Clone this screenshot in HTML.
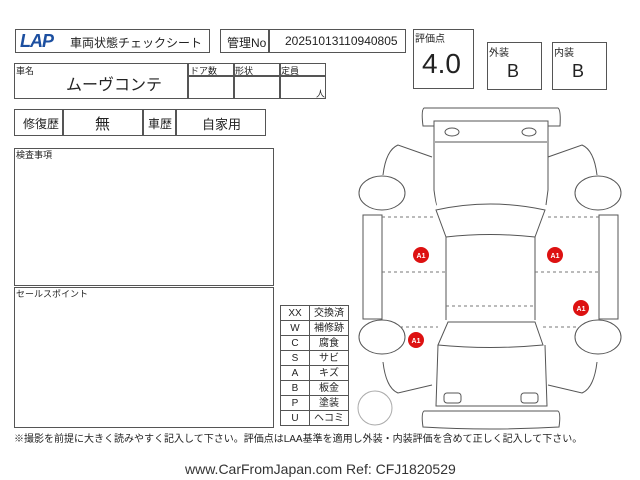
<!DOCTYPE html>
<html><head><meta charset="utf-8"><style>
body{margin:0;width:640px;height:480px;background:#fff;position:relative;overflow:hidden;font-family:"Liberation Sans","Noto Sans CJK JP",sans-serif;color:#222}
.b{position:absolute;border:1px solid #555;box-sizing:border-box}
.t{position:absolute;white-space:nowrap}
td{border:1px solid #555;height:14px;padding:0;text-align:center;line-height:13px}
</style></head><body>
<div class="b" style="left:15px;top:29px;width:195px;height:24px"></div>
<div class="t" style="left:20px;top:31px;font:italic bold 18px 'Liberation Sans',sans-serif;color:#1c4fa0;letter-spacing:-1px">LAP</div>
<div class="t" style="left:70px;top:34px;font-size:12px">車両状態チェックシート</div>
<div class="b" style="left:220px;top:29px;width:186px;height:24px"></div>
<div class="b" style="left:268px;top:29px;width:1px;height:24px"></div>
<div class="t" style="left:227px;top:34px;font-size:12px">管理No</div>
<div class="t" style="left:285px;top:34px;font-size:12px">20251013110940805</div>
<div class="b" style="left:413px;top:29px;width:61px;height:60px"></div>
<div class="t" style="left:415px;top:30px;font-size:10px">評価点</div>
<div class="t" style="left:422px;top:48px;font-size:28px">4.0</div>
<div class="b" style="left:487px;top:42px;width:55px;height:48px"></div>
<div class="t" style="left:489px;top:44px;font-size:10px">外装</div>
<div class="t" style="left:507px;top:61px;font-size:18px">B</div>
<div class="b" style="left:552px;top:42px;width:55px;height:48px"></div>
<div class="t" style="left:554px;top:44px;font-size:10px">内装</div>
<div class="t" style="left:572px;top:61px;font-size:18px">B</div>
<div class="b" style="left:14px;top:63px;width:312px;height:36px"></div>
<div class="b" style="left:187px;top:63px;width:1px;height:36px"></div>
<div class="b" style="left:233px;top:63px;width:1px;height:36px"></div>
<div class="b" style="left:279px;top:63px;width:1px;height:36px"></div>
<div class="b" style="left:187px;top:75px;width:139px;height:1px"></div>
<div class="t" style="left:16px;top:64px;font-size:9px">車名</div>
<div class="t" style="left:190px;top:64px;font-size:9px">ドア数</div>
<div class="t" style="left:235px;top:64px;font-size:9px">形状</div>
<div class="t" style="left:281px;top:64px;font-size:9px">定員</div>
<div class="t" style="left:316px;top:87px;font-size:9px">人</div>
<div class="t" style="left:66px;top:71px;font-size:16px">ムーヴコンテ</div>
<div class="b" style="left:14px;top:109px;width:252px;height:27px"></div>
<div class="b" style="left:62px;top:109px;width:1px;height:27px"></div>
<div class="b" style="left:142px;top:109px;width:1px;height:27px"></div>
<div class="b" style="left:175px;top:109px;width:1px;height:27px"></div>
<div class="t" style="left:23px;top:115px;font-size:12px">修復歴</div>
<div class="t" style="left:95px;top:113px;font-size:15px">無</div>
<div class="t" style="left:148px;top:115px;font-size:12px">車歴</div>
<div class="t" style="left:202px;top:114px;font-size:13px">自家用</div>
<div class="b" style="left:14px;top:148px;width:260px;height:138px"></div>
<div class="t" style="left:16px;top:148px;font-size:9px">検査事項</div>
<div class="b" style="left:14px;top:287px;width:260px;height:141px"></div>
<div class="t" style="left:16px;top:287px;font-size:9px">セールスポイント</div>
<table style="position:absolute;left:280px;top:305px;border-collapse:collapse;font-size:10px;width:68px;table-layout:fixed">
<col style="width:29px"><col style="width:39px">
<tr><td>XX</td><td>交換済</td></tr><tr><td>W</td><td>補修跡</td></tr><tr><td>C</td><td>腐食</td></tr><tr><td>S</td><td>サビ</td></tr><tr><td>A</td><td>キズ</td></tr><tr><td>B</td><td>板金</td></tr><tr><td>P</td><td>塗装</td></tr><tr><td>U</td><td>ヘコミ</td></tr>
</table>
<svg style="position:absolute;left:0;top:0" width="640" height="480" fill="none" stroke="#555" stroke-width="1">
<circle cx="375" cy="408" r="17" stroke="#aaa"/>
<path d="M424,108 L558,108 Q561,110 560,126 L548,126 L548,121 L434,121 L434,126 L423,126 Q421,110 424,108Z"/>
<path d="M434,121 L434,190 Q436,205 437,205 M548,121 L548,190 L546,205"/>
<line x1="435" y1="142" x2="547" y2="142"/>
<ellipse cx="452" cy="132" rx="7" ry="4"/><ellipse cx="529" cy="132" rx="7" ry="4"/>
<path d="M436,210 Q490,198 545,210 L535,237 Q490,232 446,237Z"/>
<line x1="446" y1="237" x2="446" y2="320"/><line x1="535" y1="237" x2="535" y2="320"/>
<path d="M448,322 L535,322 L543,345 Q490,350 438,345Z"/>
<path d="M438,345 L436,406 L547,406 L545,345"/>
<rect x="444" y="393" width="17" height="10" rx="3"/><rect x="521" y="393" width="17" height="10" rx="3"/>
<path d="M424,411 L558,411 Q561,413 559,427 Q490,431 423,427 Q421,413 424,411Z"/>
<path d="M432,157 L398,145 Q386,150 383,175 M548,157 L582,145 Q594,150 597,175"/>
<path d="M383,362 Q386,388 398,393 L432,385 M597,362 Q594,388 582,393 L548,385"/>
<ellipse cx="382" cy="193" rx="23" ry="17"/><ellipse cx="598" cy="193" rx="23" ry="17"/>
<ellipse cx="382" cy="337" rx="23" ry="17"/><ellipse cx="598" cy="337" rx="23" ry="17"/>
<rect x="363" y="215" width="19" height="104"/><rect x="599" y="215" width="19" height="104"/>
<g stroke-dasharray="3,3" stroke="#777">
<line x1="382" y1="217" x2="434" y2="217"/><line x1="548" y1="217" x2="599" y2="217"/>
<line x1="382" y1="272" x2="446" y2="272"/><line x1="535" y1="272" x2="599" y2="272"/>
<line x1="446" y1="306" x2="535" y2="306"/>
<line x1="400" y1="327" x2="438" y2="327"/><line x1="543" y1="327" x2="580" y2="327"/>
</g>
<g fill="#d11" stroke="none">
<circle cx="421" cy="255" r="8"/><circle cx="555" cy="255" r="8"/><circle cx="581" cy="308" r="8"/><circle cx="416" cy="340" r="8"/>
</g>
<g fill="#fff" stroke="none" font-size="7" font-weight="bold" font-family="Liberation Sans,sans-serif" text-anchor="middle">
<text x="421" y="258">A1</text><text x="555" y="258">A1</text><text x="581" y="311">A1</text><text x="416" y="343">A1</text>
</g>
</svg>
<div class="t" style="left:14px;top:430px;font-size:10px">※撮影を前提に大きく読みやすく記入して下さい。評価点はLAA基準を適用し外装・内装評価を含めて正しく記入して下さい。</div>
<div class="t" style="left:185px;top:461px;font-size:14px;color:#333">www.CarFromJapan.com Ref: CFJ1820529</div>
</body></html>
